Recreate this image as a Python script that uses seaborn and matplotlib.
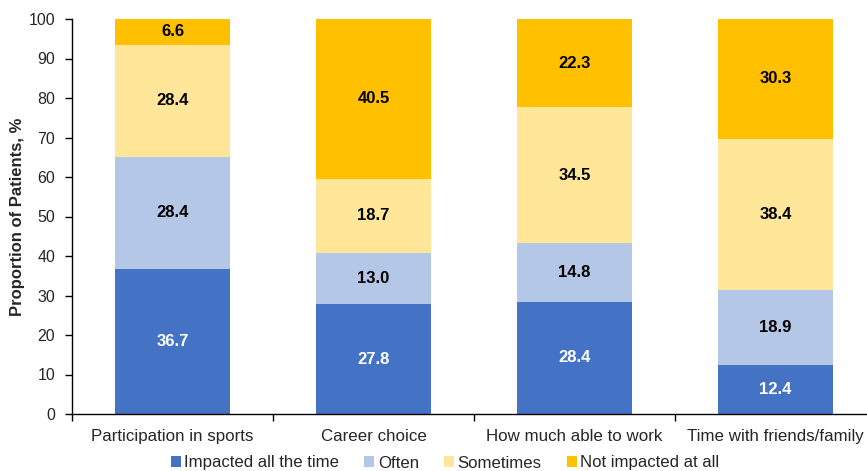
import numpy as np
import pandas as pd
import matplotlib
matplotlib.use("Agg")
import matplotlib.pyplot as plt
from matplotlib.patches import Patch
from matplotlib.ticker import FixedLocator
import seaborn as sns

categories = ["Participation in sports", "Career choice",
              "How much able to work", "Time with friends/family"]
levels = ["Impacted all the time", "Often", "Sometimes", "Not impacted at all"]
impacted_all = [36.7, 27.8, 28.4, 12.4]
often = [28.4, 13.0, 14.8, 18.9]
sometimes = [28.4, 18.7, 34.5, 38.4]
not_impacted = [6.6, 40.5, 22.3, 30.3]
colors = ["#4472C4", "#B4C7E7", "#FFE699", "#FFC000"]
label_colors = ["white", "black", "black", "black"]

sns.set_theme(style="white")
plt.rcParams["font.family"] = ["Liberation Sans", "DejaVu Sans"]

series = [impacted_all, often, sometimes, not_impacted]
df = pd.DataFrame({"category": categories})
for name, vals in zip(levels, series):
    df[name] = vals
cum = df[levels].cumsum(axis=1)

fig = plt.figure(figsize=(8.67, 4.71), dpi=100)
ax = fig.add_axes([72 / 867, 57 / 471, 804 / 867, 395 / 471])

# draw cumulative totals from the top layer down so each layer sits on the one below
for i in range(len(levels) - 1, -1, -1):
    sns.barplot(data=cum.assign(category=df["category"]), x="category", y=levels[i],
                color=colors[i], saturation=1, width=0.575, ax=ax,
                order=categories, linewidth=0, errorbar=None)

for j in range(len(categories)):
    base = 0.0
    for i, name in enumerate(levels):
        v = df[name].iloc[j]
        ax.text(j, base + v / 2, f"{v:.1f}", ha="center", va="center",
                fontsize=12, fontweight="bold", color=label_colors[i])
        base += v

ax.set_xlim(-0.5, 3.5)
ax.set_ylim(0, 100)
ax.set_yticks(np.arange(0, 101, 10))
ax.set_xlabel("")
ax.set_ylabel("Proportion of Patients, %", fontsize=12, fontweight="bold")
ax.yaxis.set_label_coords(-0.059, 0.5)
ax.tick_params(axis="y", which="major", direction="out", length=5, width=1,
               color="black", labelsize=11.5, left=True, pad=7)
ax.tick_params(axis="x", which="major", length=0, labelsize=12.2, pad=11)
ax.xaxis.set_minor_locator(FixedLocator([-0.5, 0.5, 1.5, 2.5]))
ax.tick_params(axis="x", which="minor", direction="out", length=5, width=1,
               color="black", bottom=True)
for s in ["top", "right"]:
    ax.spines[s].set_visible(False)
for s in ["left", "bottom"]:
    ax.spines[s].set_color("black")
    ax.spines[s].set_linewidth(1)

handles = [Patch(facecolor=c, edgecolor="none", label=l) for c, l in zip(colors, levels)]
fig.legend(handles=handles, loc="center", bbox_to_anchor=(445 / 867, 1 - 463 / 471),
           ncol=4, frameon=False, fontsize=12.1, handlelength=0.6, handleheight=0.6,
           handletextpad=0.2, columnspacing=1.5, borderaxespad=0)

fig.savefig("out.png", dpi=100)
